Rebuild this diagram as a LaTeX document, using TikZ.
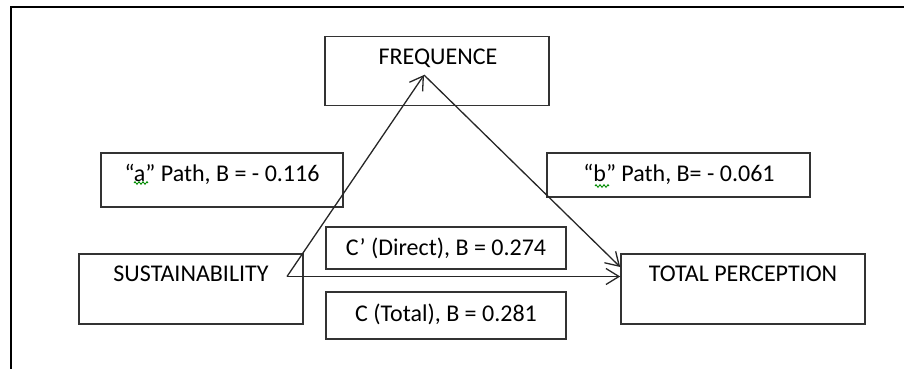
\documentclass[tikz,border=0pt]{standalone}
\usepackage{fontspec}
\setmainfont{Carlito}
\usetikzlibrary{arrows.meta,decorations.pathmorphing}
\begin{document}
\begin{tikzpicture}[x=1pt,y=-1pt,
  font=\fontsize{24}{29}\selectfont,
  box/.style={draw=black!80,line width=1.6pt,rectangle,inner sep=0pt},
  word/.style={inner sep=0pt,anchor=center},
  link/.style={draw=black!85,line width=1.3pt},
  arrowlink/.style={link,-{Straight Barb[length=13pt,width=16pt,line width=1.3pt]}},
  squiggle/.style={draw=green!55!black,line width=0.9pt,
    decorate,decoration={zigzag,amplitude=1.3pt,segment length=4pt}}]
\useasboundingbox (0,0) rectangle (904,369);

% open frame: top and left edges only
\draw[line width=2.2pt] (904,7) -- (11,7) -- (11,369);

% variable boxes
\node[box,minimum width=224pt,minimum height=69pt] (freq) at (437,71) {};
\node[word] (freqtext) at (438,58) {FREQUENCE};
\node[box,minimum width=224pt,minimum height=70pt] (sus) at (191,289) {};
\node[word] (sustext) at (191,274) {SUSTAINABILITY};
\node[box,minimum width=244pt,minimum height=70pt] (tp) at (743,289) {};
\node[word] (tptext) at (743,274) {TOTAL PERCEPTION};

% coefficient boxes
\node[box,minimum width=242pt,minimum height=54pt] (apath) at (222,180) {};
\node[word] (apathtext) at (222,174) {“a” Path, B = - 0.116};
\node[box,minimum width=263pt,minimum height=44pt] (bpath) at (678.5,175) {};
\node[word] (bpathtext) at (679,174) {“b” Path, B= - 0.061};
\node[box,minimum width=240pt,minimum height=42pt] (direct) at (446,248) {};
\node[word] (directtext) at (446,248) {C’ (Direct), B = 0.274};
\node[box,minimum width=240pt,minimum height=47pt] (total) at (446,315.5) {};
\node[word] (totaltext) at (446,314) {C (Total), B = 0.281};

% spell-check marks under the quoted letters
\coordinate (sqa1) at (134,183);
\coordinate (sqa2) at (148,183);
\coordinate (sqb1) at (595,186);
\coordinate (sqb2) at (609,186);
\draw[squiggle] (sqa1) -- (sqa2);
\draw[squiggle] (sqb1) -- (sqb2);

% path connectors
\coordinate (src) at (287,276.5);
\coordinate (apex) at (424,75);
\coordinate (inb) at (tp.west |- 0,267);
\coordinate (inc) at (tp.west |- 0,276.5);
\draw[arrowlink] (src) -- (apex);
\draw[arrowlink] (apex) -- (inb);
\draw[arrowlink] (src) -- (inc);
\end{tikzpicture}
\end{document}
